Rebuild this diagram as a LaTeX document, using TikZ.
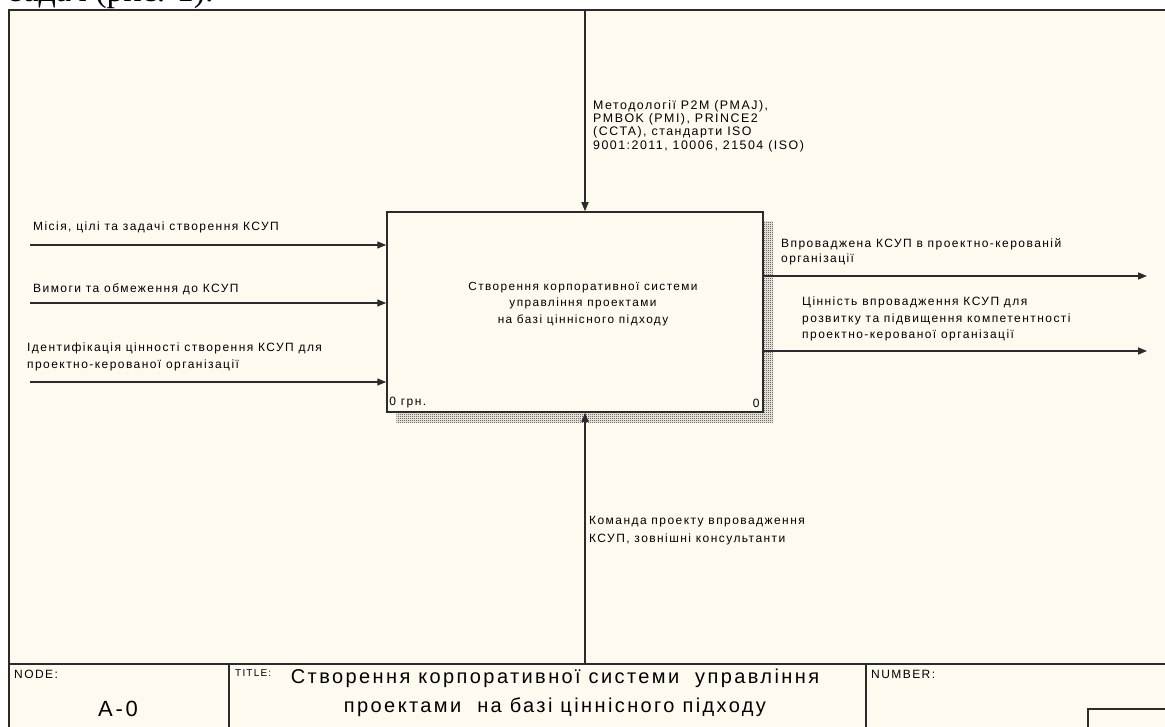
\documentclass[tikz,border=0pt]{standalone}
\usepackage{fontspec}
\setmainfont{Liberation Sans}
\newfontfamily\labelfont[LetterSpace=12]{Liberation Sans}
\newfontfamily\titlefont[LetterSpace=12]{Liberation Sans}
\newfontfamily\pagefont{Liberation Serif}
\usepackage{tikz}
\usetikzlibrary{arrows.meta,patterns,positioning}
\definecolor{paperbg}{HTML}{FFFAEF}
\definecolor{framegray}{HTML}{2B2B2B}
\pgfdeclarepatternformonly{idefcheck}{\pgfqpoint{0pt}{0pt}}{\pgfqpoint{2pt}{2pt}}{\pgfqpoint{2pt}{2pt}}%
    {\pgfpathrectangle{\pgfqpoint{0pt}{0pt}}{\pgfqpoint{1pt}{1pt}}%
     \pgfpathrectangle{\pgfqpoint{1pt}{1pt}}{\pgfqpoint{1pt}{1pt}}\pgfusepath{fill}}

\begin{document}
\begin{tikzpicture}[
    x=1pt, y=-1pt,
    >={Triangle[length=9pt,width=7pt]},
    flow/.style={->, framegray, line width=1.4pt},
    lbl/.style={anchor=north west, inner sep=0pt, align=left,
        font=\labelfont\fontsize{12}{16.5}\selectfont},
    funcbox/.style={draw=framegray, fill=paperbg, line width=1.5pt,
        minimum width=376pt, minimum height=200pt, inner sep=0pt},
    cornertxt/.style={inner sep=0pt, font=\labelfont\fontsize{12}{12}\selectfont},
    fieldtxt/.style={anchor=base west, inner sep=0pt, font=\labelfont\fontsize{12}{12}\selectfont}
]
    \useasboundingbox (0,0) rectangle (1165,727);

    % Page and diagram sheet
    \fill[white] (0,0) rectangle (1165,727);
    \node[anchor=base west, inner sep=0pt, font=\pagefont\fontsize{34}{34}\selectfont] (pagetxt) at (10,2) {задач (рис. 1).};
    \fill[paperbg] (9,10) rectangle (1165,727);
    \draw[framegray, line width=2pt] (1166,10) -- (9,10) -- (9,728);

    % Activity box with shadow
    \node[funcbox] (func) at (575,312) {};
    \path[pattern=idefcheck, pattern color=black!85]
        ([yshift=-10pt]func.north east) rectangle ([xshift=9pt,yshift=-10pt]func.south east)
        ([xshift=10pt]func.south west) rectangle ([xshift=9pt,yshift=-10pt]func.south east);
    \node[align=center, inner sep=0pt, font=\labelfont\fontsize{11.8}{16.5}\selectfont] (functxt) at (583,304)
        {Створення корпоративної системи\\управління проектами\\на базі ціннісного підходу};
    \node[cornertxt, anchor=south west] (cost) at ([shift={(3pt,5pt)}]func.south west) {0 грн.};
    \node[cornertxt, anchor=south east] (boxno) at ([shift={(-4pt,5pt)}]func.south east) {0};

    % Control
    \coordinate (ctrl) at (585,10);
    \draw[flow] (ctrl) -- (ctrl |- func.north);
    \node[lbl, font=\labelfont\fontsize{12.4}{13.3}\selectfont] (ctrltxt) at (593,100)
        {Методології P2M (PMAJ),\\PMBOK (PMI), PRINCE2\\(CCTA), стандарти ISO\\9001:2011, 10006, 21504 (ISO)};

    % Inputs
    \coordinate (in1) at (30,245);
    \coordinate (in2) at (30,303);
    \coordinate (in3) at (30,382);
    \draw[flow] (in1) -- (in1 -| func.west);
    \draw[flow] (in2) -- (in2 -| func.west);
    \draw[flow] (in3) -- (in3 -| func.west);
    \node[lbl] (in1txt) at (33,222) {Місія, цілі та задачі створення КСУП};
    \node[lbl] (in2txt) at (33,283) {Вимоги та обмеження до КСУП};
    \node[lbl] (in3txt) at (27,343) {Ідентифікація цінності створення КСУП для\\проектно-керованої організації};

    % Outputs
    \coordinate (out1) at (1147,276);
    \coordinate (out2) at (1147,351);
    \draw[flow] (out1 -| func.east) -- (out1);
    \draw[flow] (out2 -| func.east) -- (out2);
    \node[lbl, font=\labelfont\fontsize{12}{15}\selectfont] (out1txt) at (781,238) {Впроваджена КСУП в проектно-керованій\\організації};
    \node[lbl] (out2txt) at (802,297) {Цінність впровадження КСУП для\\розвитку та підвищення компетентності\\проектно-керованої організації};

    % Mechanism
    \coordinate (mech) at (585,664);
    \draw[flow] (mech) -- (mech |- func.south);
    \node[lbl, font=\labelfont\fontsize{12}{18}\selectfont] (mechtxt) at (589,516)
        {Команда проекту впровадження\\КСУП, зовнішні консультанти};

    % Title block
    \draw[framegray, line width=1.5pt] (9,664) -- (1166,664);
    \draw[framegray, line width=1.5pt] (229,664) -- (229,728);
    \draw[framegray, line width=1.5pt] (866,664) -- (866,728);
    \draw[framegray, line width=1.5pt] (1166,709) -- (1088,709) -- (1088,728);
    \node[fieldtxt] (nodefld) at (14,678) {NODE:};
    \node[fieldtxt, font=\labelfont\fontsize{10}{10}\selectfont] (titlefld) at (235,676) {TITLE:};
    \node[fieldtxt] (numfld) at (871,678) {NUMBER:};
    \node[anchor=base, inner sep=0pt, font=\titlefont\fontsize{22}{22}\selectfont] (nodeno) at (118,716) {А-0};
    \node[anchor=north, align=center, inner sep=0pt, font=\titlefont\fontsize{20}{29}\selectfont] (titletxt) at (555,669)
        {Створення корпоративної системи~ управління\\проектами~ на базі ціннісного підходу};
\end{tikzpicture}
\end{document}
